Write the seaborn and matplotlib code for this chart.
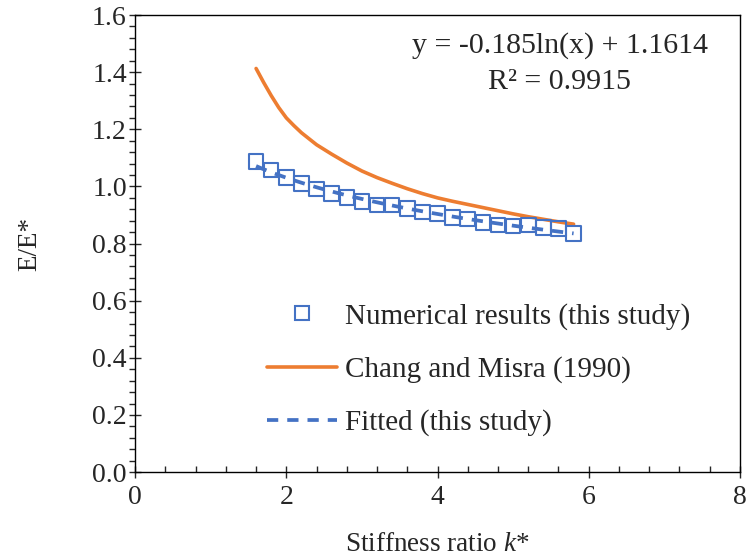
import numpy as np
import pandas as pd
import matplotlib
matplotlib.use('Agg')
import matplotlib.pyplot as plt
from matplotlib.ticker import MultipleLocator, FormatStrFormatter
from matplotlib.lines import Line2D
import seaborn as sns

# stiffness ratio k* of the numerical runs
k_ratio = [1.6, 1.8, 2.0, 2.2, 2.4, 2.6, 2.8, 3.0, 3.2, 3.4, 3.6,
           3.8, 4.0, 4.2, 4.4, 4.6, 4.8, 5.0, 5.2, 5.4, 5.6, 5.8]
# numerical results (this study)
numerical = [1.087, 1.057, 1.032, 1.011, 0.991, 0.976, 0.961, 0.947, 0.935, 0.935, 0.923,
             0.911, 0.906, 0.892, 0.886, 0.873, 0.865, 0.861, 0.865, 0.857, 0.853, 0.836]

# Chang and Misra (1990) curve
k_cm = [1.6, 1.7, 1.8, 1.9, 2.0, 2.1, 2.2, 2.4, 2.6, 2.8, 3.0, 3.2, 3.4, 3.6,
        3.8, 4.0, 4.2, 4.4, 4.6, 4.8, 5.0, 5.2, 5.4, 5.6, 5.8]
chang_misra = [1.413, 1.364, 1.318, 1.276, 1.240, 1.213, 1.188, 1.146, 1.113, 1.082, 1.054,
               1.031, 1.011, 0.992, 0.975, 0.960, 0.948, 0.937, 0.926, 0.915, 0.904,
               0.894, 0.885, 0.876, 0.868]

eq_text = 'y = -0.185ln(x) + 1.1614'
r2_text = 'R² = 0.9915'

blue = '#4472C4'
orange = '#ED7D31'

num_df = pd.DataFrame({'k': k_ratio, 'num': numerical})
cm_df = pd.DataFrame({'k': k_cm, 'cm': chang_misra})

sns.set_style('ticks')
plt.rcParams['font.family'] = ['Liberation Serif', 'DejaVu Serif']
plt.rcParams['mathtext.fontset'] = 'custom'
plt.rcParams['mathtext.rm'] = 'Liberation Serif'
plt.rcParams['mathtext.it'] = 'Liberation Serif:italic'

fig = plt.figure(figsize=(7.55, 5.58), dpi=100)
ax = fig.add_axes([0.179, 0.154, 0.801, 0.819])

# Chang and Misra
sns.lineplot(data=cm_df, x='k', y='cm', color=orange, linewidth=2.6, ax=ax)
# log trendline of the numerical results
dash = (0, (3.0, 2.4))
sns.regplot(data=num_df, x='k', y='num', logx=True, scatter=False, ci=None, ax=ax,
            line_kws=dict(color=blue, linewidth=2.7, linestyle=dash))
# numerical results
sns.scatterplot(data=num_df, x='k', y='num', marker='s', s=110, facecolors='none',
                edgecolor=blue, linewidth=1.5, ax=ax, zorder=3)

ax.set_xlim(0, 8)
ax.set_ylim(0, 1.6)
ax.xaxis.set_major_locator(MultipleLocator(2))
ax.xaxis.set_minor_locator(MultipleLocator(0.4))
ax.yaxis.set_major_locator(MultipleLocator(0.2))
ax.yaxis.set_minor_locator(MultipleLocator(0.04))
ax.xaxis.set_major_formatter(FormatStrFormatter('%d'))
ax.yaxis.set_major_formatter(FormatStrFormatter('%.1f'))
ax.tick_params(axis='both', which='major', direction='inout', length=9, width=1,
               labelsize=20)
ax.tick_params(axis='y', which='major', pad=1.5)
ax.tick_params(axis='x', which='major', pad=5)
ax.tick_params(axis='x', which='minor', direction='in', length=4, width=1)
ax.tick_params(axis='y', which='minor', direction='out', length=4, width=1)
for sp in ax.spines.values():
    sp.set_visible(True)
    sp.set_linewidth(1.0)
    sp.set_color('black')

ax.set_xlabel('Stiffness ratio $k$*', fontsize=19.5, labelpad=16)
ax.set_ylabel('E/E*', fontsize=19.5, labelpad=36)

ax.text(0.702, 0.934, eq_text, transform=ax.transAxes, ha='center', va='center', fontsize=21.5)
ax.text(0.702, 0.853, r2_text, transform=ax.transAxes, ha='center', va='center', fontsize=21.5)

handles = [
    Line2D([], [], linestyle='none', marker='s', markersize=10, markerfacecolor='none',
           markeredgecolor=blue, markeredgewidth=1.5),
    Line2D([], [], color=orange, linewidth=2.6),
    Line2D([], [], color=blue, linewidth=2.7, linestyle=dash),
]
labels = ['Numerical results (this study)', 'Chang and Misra (1990)', 'Fitted (this study)']
ax.legend(handles, labels, loc='center', bbox_to_anchor=(0.568, 0.224), frameon=False,
          fontsize=21, handlelength=2.4, handletextpad=0.25, labelspacing=0.9)

fig.savefig('out.png', dpi=100)
